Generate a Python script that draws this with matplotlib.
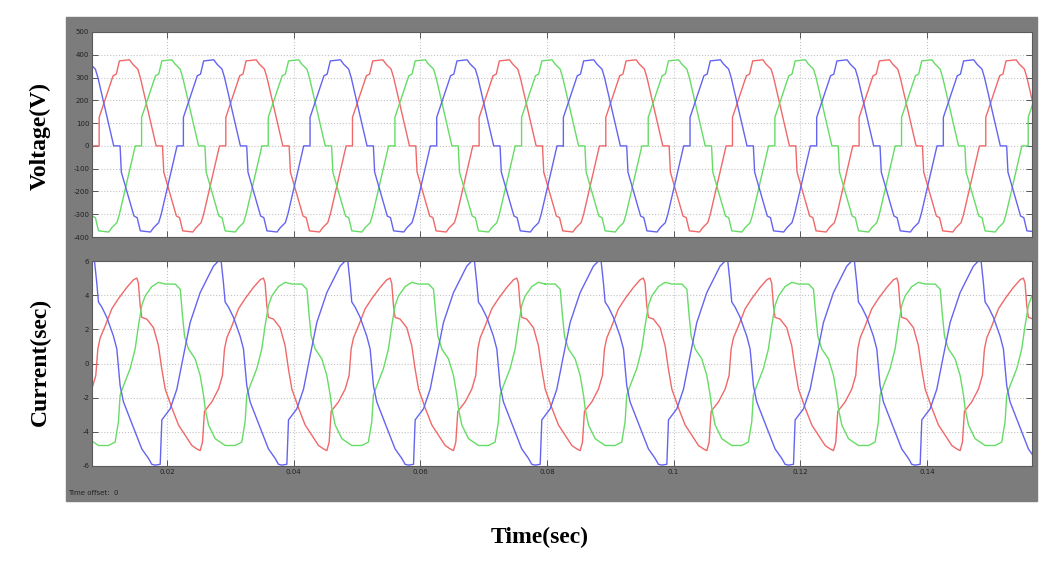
import numpy as np
import matplotlib.pyplot as plt
from matplotlib.patches import Rectangle

# one cycle (50 Hz) of each waveform
period = 0.02

# phase voltage, ms from start of positive half -> volts
v_ms = [0.0, 0.0, 2.2, 2.7, 3.2, 4.8, 5.3, 6.1, 6.5, 9.0,
        10.0, 10.2, 12.2, 12.7, 13.2, 14.8, 15.3, 16.1, 16.5, 19.0, 20.0]
v_val = [0, 125, 308, 315, 373, 378, 359, 337, 300, 0,
         0, -115, -308, -315, -373, -378, -359, -337, -300, 0, 0]
v_start = {"green": 0.0160, "blue": 0.0226, "red": 0.0293}

# phase currents, ms from cycle start -> amps
ib_ms = [0.0, 0.79, 1.05, 2.37, 3.42, 4.47, 5.52, 7.10, 9.20, 9.99, 10.41,
         10.78, 11.04, 11.57, 12.36, 13.41, 13.94, 14.46, 14.99, 15.78,
         16.83, 17.88, 18.93, 19.46, 20.0]
ib_val = [-5.95, -5.9, -3.3, -2.65, -1.5, 0.47, 2.4, 4.15, 5.7, 6.0, 6.0,
          4.7, 3.6, 3.3, 2.7, 1.6, 0.85, -1.3, -2.25, -3.0,
          -4.0, -5.0, -5.55, -5.9, -5.95]
ib_start = 0.01815

ir_ms = [0.0, 1.05, 2.10, 3.15, 4.21, 5.00, 5.52, 5.89, 6.20, 6.41, 7.36,
         8.41, 9.04, 9.36, 9.73, 10.52, 11.57, 12.62, 13.93, 14.99, 15.51,
         15.77, 16.04, 16.30, 17.09, 18.14, 18.93, 19.45, 20.0]
ir_val = [-1.5, -2.6, -3.6, -4.2, -4.8, -5.0, -5.1, -4.6, -2.8, -2.7, -2.25,
          -1.5, -0.7, 0.85, 1.5, 2.2, 3.2, 3.8, 4.45, 4.9, 5.0,
          4.7, 3.4, 2.7, 2.6, 2.1, 1.05, -0.3, -1.5]
ir_start = 0.01973

ig_ms = [0.0, 1.58, 2.37, 2.73, 3.05, 3.68, 4.73, 5.52, 6.05, 6.31, 6.84,
         7.89, 9.46, 11.04, 12.09, 12.62, 12.88, 13.41, 14.46, 15.25, 15.77,
         16.30, 16.83, 17.88, 18.93, 20.0]
ig_val = [4.65, 4.65, 4.35, 2.8, 1.6, 0.85, 0.27, -0.7, -1.85, -2.65, -3.6,
          -4.4, -4.8, -4.8, -4.6, -3.4, -1.85, -1.3, -0.3, 0.85, 2.2,
          3.4, 3.95, 4.5, 4.75, 4.65]
ig_start = 0.01973

v_ticks = [-400, -300, -200, -100, 0, 100, 200, 300, 400, 500]
i_ticks = [-6, -4, -2, 0, 2, 4, 6]
t_ticks = [0.02, 0.04, 0.06, 0.08, 0.10, 0.12, 0.14]
t_labels = ["0.02", "0.04", "0.06", "0.08", "0.1", "0.12", "0.14"]
t_lim = (0.00817, 0.1566)

colors = {"red": "#f06868", "green": "#66dc66", "blue": "#6464f0"}


def repeat(ms, val, start):
    t, y = [], []
    for k in range(-2, 9):
        t.extend(start + k * period + np.array(ms) / 1000.0)
        y.extend(val)
    return np.array(t), np.array(y)


W, H = 1048, 563
fig = plt.figure(figsize=(W / 100, H / 100), dpi=100)
fig.patches.append(Rectangle((66 / W, 1 - 501 / H), (1037 - 66) / W, (501 - 17) / H,
                             transform=fig.transFigure, color="#7c7c7c", zorder=-10))

ax1 = fig.add_axes([92 / W, 1 - 237 / H, 940 / W, 205 / H])
ax2 = fig.add_axes([92 / W, 1 - 466 / H, 940 / W, 205 / H])

for name in ["red", "green", "blue"]:
    t, y = repeat(v_ms, v_val, v_start[name])
    ax1.plot(t, y, color=colors[name], lw=1.0)

for ms, val, start, name in [(ir_ms, ir_val, ir_start, "red"),
                             (ig_ms, ig_val, ig_start, "green"),
                             (ib_ms, ib_val, ib_start, "blue")]:
    t, y = repeat(ms, val, start)
    ax2.plot(t, y, color=colors[name], lw=1.0)

for ax, ticks, lim in [(ax1, v_ticks, (-400, 500)), (ax2, i_ticks, (-6, 6))]:
    ax.set_facecolor("white")
    ax.set_xlim(*t_lim)
    ax.set_ylim(*lim)
    ax.set_yticks(ticks)
    ax.set_yticklabels([str(v) for v in ticks])
    ax.set_xticks(t_ticks)
    ax.grid(True, color="#c4c4c4", linestyle=":", lw=0.8)
    ax.tick_params(direction="in", length=4, width=0.6, color="#404040",
                   labelsize=5, labelcolor="#222222", pad=2,
                   top=True, right=True)
    for s in ax.spines.values():
        s.set_color("#5a5a5a")
        s.set_linewidth(0.8)

ax1.set_xticklabels([])
ax2.set_xticklabels(t_labels)

fig.text(68 / W, 1 - 493 / H, "Time offset:  0", fontsize=5, color="#222222",
         va="center", ha="left")

lab = dict(family="Liberation Serif", fontweight="bold", fontsize=17, color="black")
fig.text(40 / W, 1 - 136 / H, "Voltage(V)", rotation=90, ha="center", va="center", **lab)
fig.text(40 / W, 1 - 362 / H, "Current(sec)", rotation=90, ha="center", va="center", **lab)
fig.text(540 / W, 1 - 537 / H, "Time(sec)", ha="center", va="center", **lab)

fig.savefig("out.png", dpi=100)
